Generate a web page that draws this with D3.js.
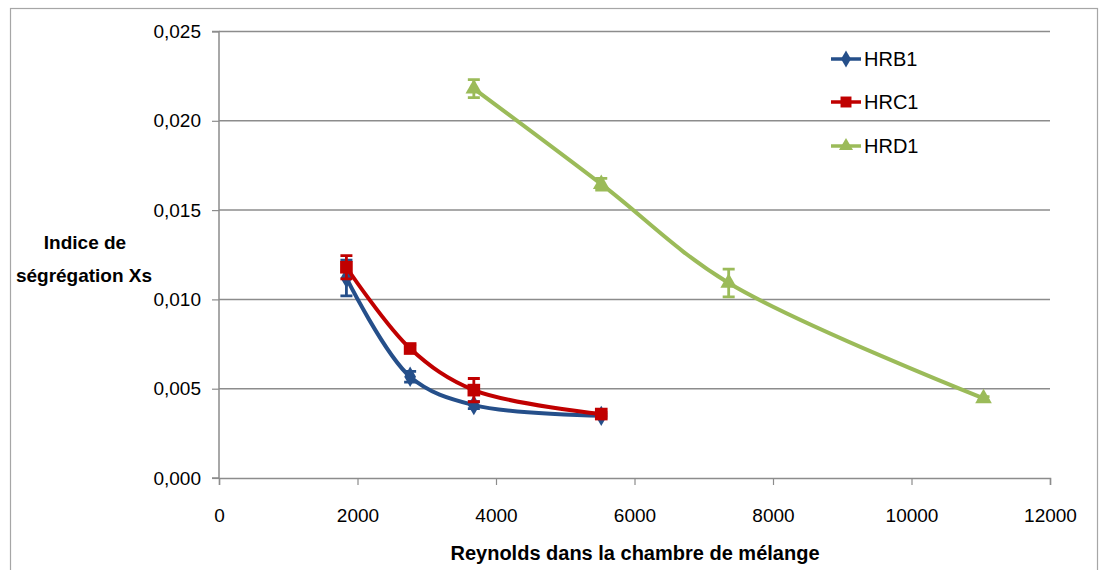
<!DOCTYPE html>
<html><head><meta charset="utf-8">
<script src="https://cdn.jsdelivr.net/npm/d3@7"></script>
<style>body{margin:0;background:#fff;} svg{display:block;} text{font-family:"Liberation Sans",Arial,sans-serif;}</style>
</head><body><svg id="c" width="1101" height="570"></svg>
<script>
const seriesNames = ["HRB1","HRC1","HRD1"];
const colors = ["#254F8A","#C00000","#9BBB59"];
const symbols = [d3.symbolDiamond, d3.symbolSquare, d3.symbolTriangle];
const xHRB1 = [1840, 2760, 3680, 5520];
const yHRB1 = [0.0112, 0.00567, 0.00408, 0.00348];
const eHRB1 = [0.001, 0.0003, 0.0002, 0.0001];
const xHRC1 = [1840, 2760, 3680, 5520];
const yHRC1 = [0.0118, 0.00725, 0.00492, 0.00358];
const eHRC1 = [0.00065, 0.0002, 0.00065, 0.0001];
const xHRD1 = [3680, 5520, 7360, 11040];
const yHRD1 = [0.0218, 0.01645, 0.01092, 0.00446];
const eHRD1 = [0.0005, 0.00033, 0.00078, 0.0001];
const xTicks = [0,2000,4000,6000,8000,10000,12000];
const yTicks = [0,0.005,0.010,0.015,0.020,0.025];
const xTitle = "Reynolds dans la chambre de mélange";
const yTitle = ["Indice de","ségrégation Xs"];

const series = [
  {name:seriesNames[0], x:xHRB1, y:yHRB1, e:eHRB1},
  {name:seriesNames[1], x:xHRC1, y:yHRC1, e:eHRC1},
  {name:seriesNames[2], x:xHRD1, y:yHRD1, e:eHRD1}
];

const svg = d3.select("#c");
const L=219, R=1050, T=31.5, B=478;
const x = d3.scaleLinear().domain([0,12000]).range([L,R]);
const y = d3.scaleLinear().domain([0,0.025]).range([B,T]);

// outer frame
svg.append("rect").attr("x",10.5).attr("y",8.5).attr("width",1087).attr("height",620)
  .attr("fill","none").attr("stroke","#A6A6A6").attr("stroke-width",1.2);

// gridlines
svg.append("g").selectAll("line").data(yTicks.slice(1)).join("line")
  .attr("x1",L).attr("x2",R).attr("y1",d=>y(d)).attr("y2",d=>y(d))
  .attr("stroke","#8C8C8C").attr("stroke-width",1.5);

const fmt = d => d3.format(".3f")(d).replace(".",",");
const yAxis = svg.append("g").attr("transform",`translate(${L},0)`)
  .call(d3.axisLeft(y).tickValues(yTicks).tickFormat(fmt).tickSize(7).tickPadding(11));
const xAxis = svg.append("g").attr("transform",`translate(0,${B})`)
  .call(d3.axisBottom(x).tickValues(xTicks).tickFormat(d=>String(d)).tickSize(7).tickPadding(24));
[yAxis,xAxis].forEach(a=>{
  a.select(".domain").attr("stroke","#8C8C8C").attr("stroke-width",1.5);
  a.selectAll(".tick line").attr("stroke","#8C8C8C").attr("stroke-width",1.2);
  a.selectAll("text").attr("font-size",19).attr("fill","#000").attr("font-family","Liberation Sans, Arial, sans-serif");
});
yAxis.select(".domain").attr("d",`M-7,${T}H0V${B}H-7`);

// titles
svg.append("text").attr("x",635).attr("y",560).attr("text-anchor","middle")
  .attr("font-size",20).attr("font-weight","bold").text(xTitle);
svg.append("text").attr("x",85).attr("y",249).attr("text-anchor","middle")
  .attr("font-size",19).attr("font-weight","bold").text(yTitle[0]);
svg.append("text").attr("x",84).attr("y",282).attr("text-anchor","middle")
  .attr("font-size",19).attr("font-weight","bold").text(yTitle[1]);

const line = d3.line().curve(d3.curveCatmullRom.alpha(0.5)).x(d=>x(d[0])).y(d=>y(d[1]));

series.forEach((s,i)=>{
  const pts = s.x.map((v,j)=>[v,s.y[j],s.e[j]]);
  const g = svg.append("g");
  g.append("path").attr("d",line(pts)).attr("fill","none").attr("stroke",colors[i]).attr("stroke-width",4);
  // error bars
  g.selectAll(".eb").data(pts).join("path")
    .attr("d",d=>{const cx=x(d[0]),y1=y(d[1]+d[2]),y2=y(d[1]-d[2]);
      return `M${cx-6},${y1}H${cx+6}M${cx},${y1}V${y2}M${cx-6},${y2}H${cx+6}`;})
    .attr("fill","none").attr("stroke",colors[i]).attr("stroke-width",2.8);
  g.selectAll(".m").data(pts).join("path")
    .attr("transform",d=>`translate(${x(d[0])},${y(d[1])})`)
    .attr("d",d3.symbol().type(symbols[i]).size(i===1?160:120)).attr("fill",colors[i]);
});

// legend
const lg = svg.append("g");
series.forEach((s,i)=>{
  const ly = [59,102,146][i];
  lg.append("line").attr("x1",831).attr("x2",861).attr("y1",ly).attr("y2",ly)
    .attr("stroke",colors[i]).attr("stroke-width",3.5);
  lg.append("path").attr("transform",`translate(846,${ly})`)
    .attr("d",d3.symbol().type(symbols[i]).size(i===1?120:85)).attr("fill",colors[i]);
  lg.append("text").attr("x",864).attr("y",ly+7).attr("font-size",20).text(s.name);
});
</script></body></html>
